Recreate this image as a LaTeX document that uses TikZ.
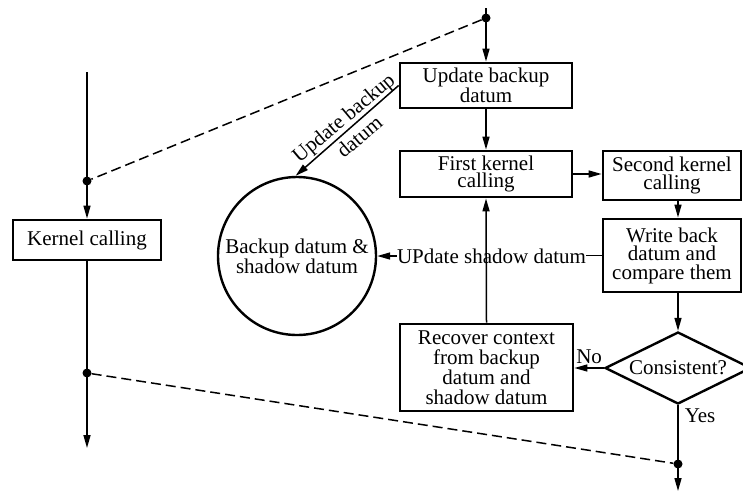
\documentclass[tikz,border=0pt]{standalone}
\usepackage{fontspec}
\setmainfont{Liberation Serif}
\usetikzlibrary{arrows.meta,shapes.geometric,calc}
\begin{document}
\begin{tikzpicture}[x=1pt,y=-1pt,
  every node/.style={font=\fontsize{21}{19}\selectfont, inner sep=0pt, align=center},
  procbox/.style={draw, line width=2.8pt, rectangle},
  link/.style={line width=1.5pt},
  flow/.style={link, -{Triangle[length=13pt,width=7pt]}},
  dashlink/.style={line width=1.5pt, dash pattern=on 10pt off 5pt},
  junction/.style={circle, fill, minimum size=9pt, inner sep=0pt}]
\useasboundingbox (0,0) rectangle (743,493);
\clip (0,0) rectangle (743,493);

% process boxes
\node[procbox, minimum width=172pt, minimum height=45pt,
      font=\fontsize{21}{16}\selectfont] (upd) at (486,85.5) {Update backup\\datum};
\node[procbox, minimum width=172pt, minimum height=46pt,
      font=\fontsize{21}{17.5}\selectfont] (first) at (486,174) {First kernel\\calling};
\node[procbox, minimum width=138pt, minimum height=49pt,
      font=\fontsize{21}{17.5}\selectfont] (second) at (672,175.5) {Second kernel\\calling};
\node[procbox, minimum width=138pt, minimum height=73pt,
      font=\fontsize{21}{18.5}\selectfont] (write) at (672,255.5) {Write back\\datum and\\compare them};
\node[procbox, minimum width=173pt, minimum height=87pt,
      font=\fontsize{21}{20}\selectfont] (recover) at (486.5,367.5) {Recover context\\from backup\\datum and\\shadow datum};
\node[procbox, minimum width=148pt, minimum height=40pt] (kernel) at (87,240) {Kernel calling};

% shared store
\node[draw, circle, line width=2.4pt, minimum size=158pt] (store) at (297,256)
  {Backup datum \&\\shadow datum};

% decision
\node[draw, diamond, line width=2.4pt, shape aspect=2, minimum width=146pt,
      minimum height=72pt] (check) at (678,368) {Consistent?};

% junction points and free ends
\coordinate (topend) at (486,8);
\node[junction] (jtop) at (486,18) {};
\coordinate (lefttop) at (87,72);
\node[junction] (jleft) at (87,181) {};
\node[junction] (jlow) at (87,373) {};
\coordinate (leftend) at (87,448);
\node[junction] (jright) at (678,464) {};
\coordinate (rightend) at (678,491);

% main flow
\draw[flow] (topend) -- (upd.north);
\draw[flow] (upd) -- (first);
\draw[flow] (first.east) -- (first.east -| second.west);
\draw[flow] (second.south -| check.north) -- (write.north -| check.north);
\draw[flow] (write.south -| check.north) -- (check.north);
\draw[flow] (check.west) -- (check.west -| recover.east)
  node[pos=0.5, above=4pt] {No};
\draw[flow] (recover.north) -- (first.south);
\draw[flow] (check.south) -- (rightend)
  node[pos=0.12, right=6pt] {Yes};

% left column
\draw[flow] (lefttop) -- (kernel.north);
\draw[flow] (kernel.south) -- (leftend);

% updates of the store
\draw[flow] (upd.west) -- (store.91)
  node[pos=0.46, rotate=40, font=\fontsize{21}{25}\selectfont] {Update backup\\datum};
\node[anchor=base] (shadowlbl) at (491.5,263.5) {UPdate shadow datum};
\draw[link] (write.west) -- (shadowlbl.east |- write.west);
\draw[flow] (shadowlbl.west |- store.east) -- (store.east);

% synchronisation lines
\draw[dashlink] (jtop) -- (jleft);
\draw[dashlink] (jlow) -- (jright);
\end{tikzpicture}
\end{document}
